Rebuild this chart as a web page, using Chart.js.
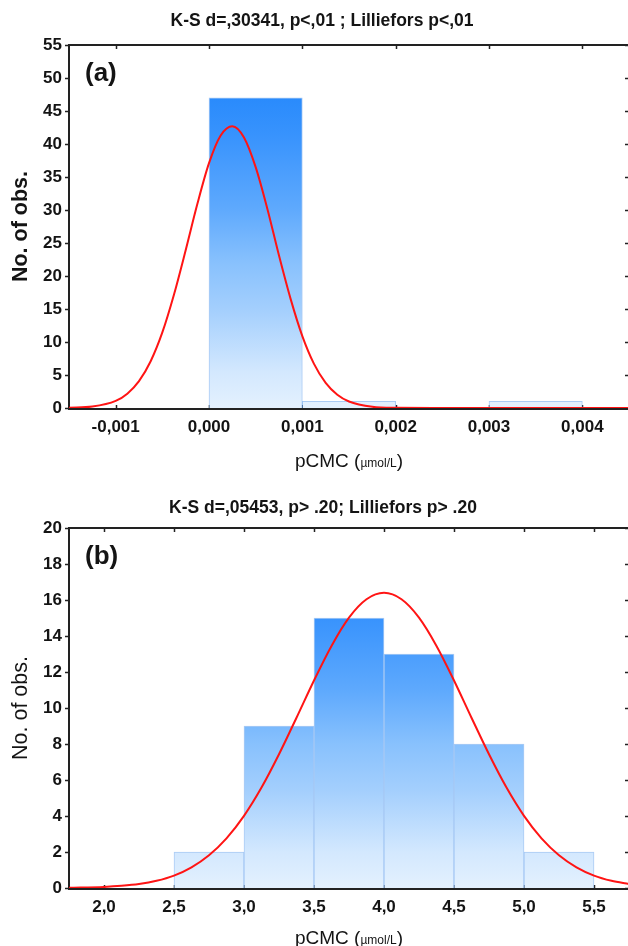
<!DOCTYPE html>
<html>
<head>
<meta charset="utf-8">
<script src="https://cdn.jsdelivr.net/npm/chart.js@4.4.1/dist/chart.umd.min.js"></script>
<style>
  html, body { margin: 0; padding: 0; background: #fff; overflow: hidden; width: 628px; height: 946px; }
  canvas { position: absolute; left: 0; }
  #chartA { top: 0; }
  #chartB { top: 480px; }
</style>
</head>
<body>
<canvas id="chartA" width="640" height="480"></canvas>
<canvas id="chartB" width="640" height="466"></canvas>
<script>
// ---- Panel (a): pCMC histogram, bins of 0.001 ----
const binStartsA = [0, 0.001, 0.002, 0.003];
const countsA = [47, 1, 0, 1];
const binWidthA = 0.001;
const fitXA = [-0.0015, -0.00125, -0.001, -0.000875, -0.00075, -0.000625, -0.0005, -0.000375,
  -0.00025, -0.000125, 0, 0.000125, 0.00025, 0.000375, 0.0005, 0.000625, 0.00075, 0.000875,
  0.001, 0.001125, 0.00125, 0.001375, 0.0015, 0.00175, 0.002, 0.0025, 0.003, 0.0035, 0.004, 0.0045];
const fitYA = [0.03, 0.21, 1.07, 2.17, 4.07, 7.09, 11.45, 17.2,
  23.9, 30.9, 37.1, 41.3, 42.7, 41.0, 36.5, 30.2, 23.1, 16.5,
  10.9, 6.69, 3.81, 2.01, 0.99, 0.19, 0.03, 0, 0, 0, 0, 0];
const xTicksA = [-0.001, 0, 0.001, 0.002, 0.003, 0.004];
const xTickLabelsA = ['-0,001', '0,000', '0,001', '0,002', '0,003', '0,004'];
const xRangeA = [-0.0015, 0.0045];
const yTicksA = [0, 5, 10, 15, 20, 25, 30, 35, 40, 45, 50, 55];
const titleA = 'K-S d=,30341, p<,01 ; Lilliefors p<,01';

// ---- Panel (b): pCMC histogram, bins of 0.5 ----
const binStartsB = [2.5, 3.0, 3.5, 4.0, 4.5, 5.0];
const countsB = [2, 9, 15, 13, 8, 2];
const binWidthB = 0.5;
const fitXB = [1.75, 2.0, 2.125, 2.25, 2.375, 2.5, 2.625, 2.75, 2.875, 3.0, 3.125, 3.25, 3.375,
  3.5, 3.625, 3.75, 3.875, 4.0, 4.125, 4.25, 4.375, 4.5, 4.625, 4.75, 4.875, 5.0, 5.125,
  5.25, 5.375, 5.5, 5.625, 5.75];
const fitYB = [0.01, 0.06, 0.12, 0.22, 0.40, 0.69, 1.15, 1.82, 2.76, 4.01, 5.58, 7.43, 9.46,
  11.53, 13.45, 15.02, 16.04, 16.4, 16.04, 15.02, 13.45, 11.53, 9.46, 7.43, 5.58, 4.01, 2.76,
  1.82, 1.15, 0.69, 0.40, 0.22];
const xTicksB = [2.0, 2.5, 3.0, 3.5, 4.0, 4.5, 5.0, 5.5];
const xTickLabelsB = ['2,0', '2,5', '3,0', '3,5', '4,0', '4,5', '5,0', '5,5'];
const xRangeB = [1.75, 5.75];
const yTicksB = [0, 2, 4, 6, 8, 10, 12, 14, 16, 18, 20];
const titleB = 'K-S d=,05453, p> .20; Lilliefors p> .20';

const FONT = "'Liberation Sans', Arial, sans-serif";
const INK = '#141414';

// vertical blue gradient over the plot area, dark at the top, pale at the baseline
function barFill(context) {
  const chart = context.chart;
  const area = chart.chartArea;
  if (!area) return '#8cc4fd';
  const g = chart.ctx.createLinearGradient(0, area.top, 0, area.bottom);
  g.addColorStop(0.00, '#1f83fb');
  g.addColorStop(0.15, '#2a8bfc');
  g.addColorStop(0.25, '#3893fd');
  g.addColorStop(0.45, '#5ea9fd');
  g.addColorStop(0.60, '#88c1fd');
  g.addColorStop(0.73, '#a4cffd');
  g.addColorStop(0.90, '#d3e8fe');
  g.addColorStop(1.00, '#e4f1fe');
  return g;
}

// frame, inner tick marks and all panel texts
const panelPlugin = {
  id: 'panel',
  beforeDatasetsDraw(chart) {
    const { ctx, chartArea: a, scales } = chart;
    ctx.save();
    ctx.strokeStyle = '#222';
    ctx.lineWidth = 2;
    ctx.beginPath();
    ctx.moveTo(a.left, a.bottom + 1);
    ctx.lineTo(a.left, a.top);
    ctx.lineTo(a.right, a.top);
    ctx.lineTo(a.right, a.bottom + 1);
    ctx.moveTo(a.left - 1, a.bottom + 1);
    ctx.lineTo(a.right + 1, a.bottom + 1);
    ctx.stroke();
    ctx.lineWidth = 1.5;
    ctx.beginPath();
    scales.x.ticks.forEach(t => {
      const px = Math.round(scales.x.getPixelForValue(t.value)) + 0.5;
      ctx.moveTo(px, a.top); ctx.lineTo(px, a.top + 4);
      ctx.moveTo(px, a.bottom); ctx.lineTo(px, a.bottom - 3);
    });
    scales.y.ticks.forEach(t => {
      const py = Math.round(scales.y.getPixelForValue(t.value)) + 0.5;
      ctx.moveTo(a.left - 4, py); ctx.lineTo(a.left, py);
      ctx.moveTo(a.right, py); ctx.lineTo(a.right - 4, py);
    });
    ctx.stroke();
    ctx.restore();
  },
  afterDraw(chart, args, opts) {
    const { ctx, chartArea: a } = chart;
    ctx.save();
    ctx.fillStyle = INK;
    // title
    ctx.font = 'bold 17.5px ' + FONT;
    ctx.textAlign = 'center';
    ctx.textBaseline = 'middle';
    ctx.fillText(opts.title, opts.titleX, opts.titleY);
    // panel letter
    ctx.font = 'bold 26px ' + FONT;
    ctx.textAlign = 'left';
    ctx.fillText(opts.letter, a.left + 16, a.top + 29);
    // y axis title
    ctx.save();
    ctx.translate(21, (a.top + a.bottom) / 2);
    ctx.rotate(-Math.PI / 2);
    ctx.font = (opts.yBold ? 'bold ' : '') + '21.5px ' + FONT;
    ctx.textAlign = 'center';
    ctx.fillText('No. of obs.', 0, 0);
    ctx.restore();
    // x axis title with a smaller unit
    ctx.textBaseline = 'alphabetic';
    const big = '19px ' + FONT, small = '12px ' + FONT;
    const p1 = 'pCMC (', p2 = '\u00b5mol/L', p3 = ')';
    ctx.font = big; const w1 = ctx.measureText(p1).width, w3 = ctx.measureText(p3).width;
    ctx.font = small; const w2 = ctx.measureText(p2).width;
    let x = (a.left + a.right) / 2 - (w1 + w2 + w3) / 2;
    const base = opts.xTitleBase;
    ctx.font = big; ctx.fillText(p1, x, base); x += w1;
    ctx.font = small; ctx.fillText(p2, x, base); x += w2;
    ctx.font = big; ctx.fillText(p3, x, base);
    ctx.restore();
  }
};

function makePanel(id, p) {
  const bars = p.binStarts.map((s, i) => ({ x: s + p.binWidth / 2, y: p.counts[i] }));
  const fit = p.fitX.map((x, i) => ({ x: x, y: p.fitY[i] }));
  return new Chart(document.getElementById(id), {
    type: 'bar',
    data: {
      datasets: [
        {
          type: 'line',
          data: fit,
          borderColor: '#ff1414',
          borderWidth: 2,
          pointRadius: 0,
          fill: false,
          cubicInterpolationMode: 'monotone',
          order: 0
        },
        {
          type: 'bar',
          data: bars,
          backgroundColor: barFill,
          borderColor: 'rgba(100,160,235,0.55)',
          borderWidth: 1,
          barPercentage: 1,
          categoryPercentage: 1,
          order: 1
        }
      ]
    },
    options: {
      responsive: false,
      animation: false,
      devicePixelRatio: 1,
      layout: { padding: { top: p.padTop, right: 11, left: 0, bottom: 0 } },
      plugins: {
        legend: { display: false },
        tooltip: { enabled: false },
        panel: {
          title: p.title, titleX: p.titleX, titleY: p.titleY,
          letter: p.letter, yBold: p.yBold, xTitleBase: p.xTitleBase
        }
      },
      scales: {
        x: {
          type: 'linear',
          offset: false,
          min: p.xRange[0],
          max: p.xRange[1],
          afterBuildTicks: s => { s.ticks = p.xTicks.map(v => ({ value: v })); },
          afterFit: s => { s.height = p.xAxisHeight; },
          ticks: {
            callback: (v, i) => p.xTickLabels[i],
            font: { family: FONT, size: 17, weight: 'bold' },
            color: INK,
            padding: 9,
            maxRotation: 0,
            autoSkip: false
          },
          grid: { display: false, drawTicks: false, offset: false },
          border: { display: false }
        },
        y: {
          min: 0,
          max: p.yTicks[p.yTicks.length - 1],
          afterBuildTicks: s => { s.ticks = p.yTicks.map(v => ({ value: v })); },
          afterFit: s => { s.width = 69; },
          ticks: {
            font: { family: FONT, size: 17, weight: 'bold' },
            color: INK,
            padding: 7
          },
          grid: { display: false, drawTicks: false },
          border: { display: false }
        }
      }
    },
    plugins: [panelPlugin]
  });
}

makePanel('chartA', {
  binStarts: binStartsA, counts: countsA, binWidth: binWidthA,
  fitX: fitXA, fitY: fitYA,
  xTicks: xTicksA, xTickLabels: xTickLabelsA, xRange: xRangeA, yTicks: yTicksA,
  padTop: 45, xAxisHeight: 72,
  title: titleA, titleX: 322, titleY: 21, letter: '(a)', yBold: true, xTitleBase: 467
});

makePanel('chartB', {
  binStarts: binStartsB, counts: countsB, binWidth: binWidthB,
  fitX: fitXB, fitY: fitYB,
  xTicks: xTicksB, xTickLabels: xTickLabelsB, xRange: xRangeB, yTicks: yTicksB,
  padTop: 48, xAxisHeight: 58,
  title: titleB, titleX: 323, titleY: 28, letter: '(b)', yBold: false, xTitleBase: 464
});
</script>
</body>
</html>
